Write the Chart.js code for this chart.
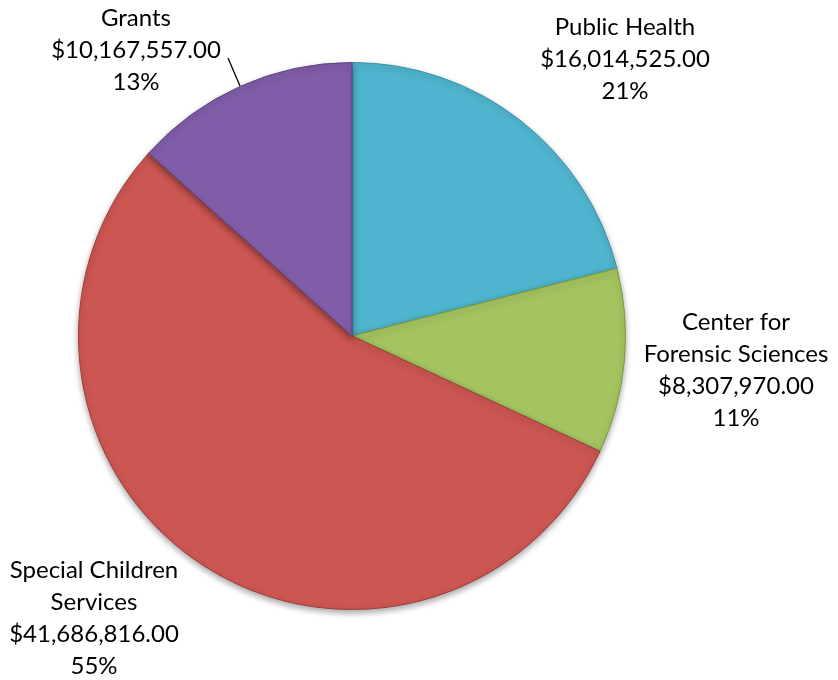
<!DOCTYPE html>
<html>
<head>
<meta charset="utf-8">
<script src="https://cdn.jsdelivr.net/npm/chart.js@4/dist/chart.umd.min.js"></script>
<style>
  html, body { margin: 0; padding: 0; background: #fff; }
  #wrap { width: 838px; height: 680px; position: relative; }
</style>
</head>
<body>
<div id="wrap"><canvas id="pieChart"></canvas></div>
<script>
var categories = ['Public Health', 'Center for Forensic Sciences', 'Special Children Services', 'Grants']
var amounts = [16014525, 8307970, 41686816, 10167557]
var labelLines = [
  ['Public Health'],
  ['Center for', 'Forensic Sciences'],
  ['Special Children', 'Services'],
  ['Grants']
]
var sliceColors = ['#4fb5ce', '#a3c460', '#cb5652', '#7f5da8']
var edgeColors = ['#3a8fa5', '#7c9a40', '#9c3b38', '#5d4380']

// where each label block sits (centre x, first line y) and line step
var labelPos = [
  { x: 625, y: 27 },
  { x: 736, y: 322 },
  { x: 94, y: 570 },
  { x: 136, y: 18 }
]
var lineStep = 32

function money(v) {
  return '$' + v.toLocaleString('en-US', { minimumFractionDigits: 2, maximumFractionDigits: 2 })
}

var total = amounts.reduce((a, b) => a + b, 0)

const outsideLabels = {
  id: 'outsideLabels',
  afterDatasetsDraw(chart) {
    const ctx = chart.ctx
    ctx.save()
    ctx.font = '24px Lato'
    ctx.fillStyle = '#000'
    ctx.textAlign = 'center'
    ctx.textBaseline = 'middle'
    for (let i = 0; i < categories.length; i++) {
      const lines = labelLines[i].concat([money(amounts[i]), Math.round(amounts[i] / total * 100) + '%'])
      lines.forEach((t, k) => {
        ctx.fillText(t, labelPos[i].x, labelPos[i].y + k * lineStep)
      })
    }
    // leader line for Grants
    ctx.strokeStyle = '#000'
    ctx.lineWidth = 1.3
    ctx.beginPath()
    ctx.moveTo(240, 86)
    ctx.lineTo(228, 58)
    ctx.stroke()
    ctx.restore()
  }
}

const shadow = {
  id: 'shadow',
  beforeDatasetsDraw(chart) {
    chart.ctx.save()
    chart.ctx.shadowColor = 'rgba(0,0,0,0.35)'
    chart.ctx.shadowBlur = 6
    chart.ctx.shadowOffsetY = 3
  },
  afterDatasetsDraw(chart) {
    chart.ctx.restore()
  }
}

new Chart(document.getElementById('pieChart'), {
  type: 'pie',
  data: {
    labels: categories,
    datasets: [{
      data: amounts,
      backgroundColor: sliceColors,
      borderColor: edgeColors,
      borderWidth: 1
    }]
  },
  options: {
    responsive: true,
    maintainAspectRatio: false,
    animation: false,
    layout: {
      padding: { top: 62, bottom: 70, left: 78, right: 212 }
    },
    plugins: {
      legend: { display: false },
      tooltip: { enabled: false }
    }
  },
  plugins: [shadow, outsideLabels]
})
</script>
</body>
</html>
